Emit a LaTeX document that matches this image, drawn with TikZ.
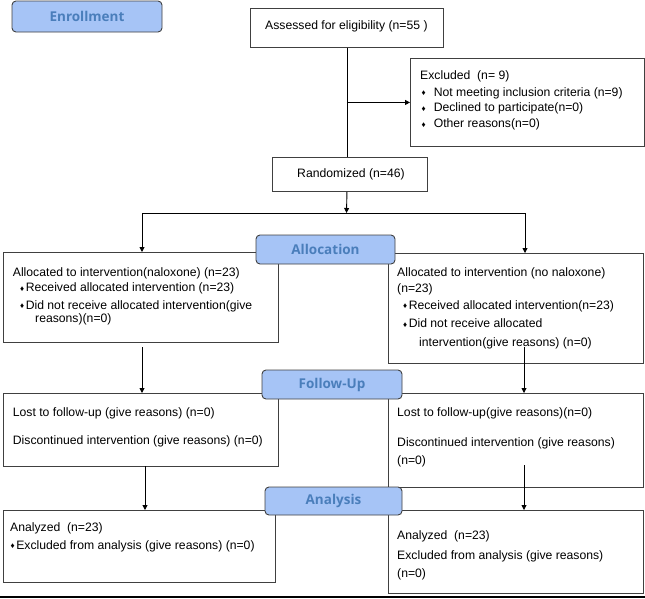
\documentclass[tikz,border=0pt]{standalone}
\usepackage{fontspec}
\setmainfont{Liberation Sans}
\newfontfamily\lblfont{Open Sans}
\usetikzlibrary{arrows.meta,calc}
\definecolor{lblfill}{HTML}{A6C4F6}
\definecolor{lbltext}{HTML}{4A7EBB}
\definecolor{boxline}{HTML}{404040}
\newcommand{\bul}{\raisebox{0.6pt}{\fontsize{8}{8}\selectfont ♦}}
\newcommand{\mkbox}[5]{\node[box, anchor=north west, minimum width={(#4-#2)*1pt}, minimum height={(#5-#3)*1pt}] (#1) at (#2,#3) {};}
\newcommand{\mklbl}[6]{\node[lbl, minimum width={(#4-#2)*1pt}, minimum height={(#5-#3)*1pt}] (#1) at ({(#2+#4)/2},{(#3+#5)/2}) {#6};}
\begin{document}
\begin{tikzpicture}[x=1pt,y=-1pt,
  box/.style={draw=boxline, line width=0.9pt, fill=white, rectangle, inner sep=0pt},
  lbl/.style={draw=boxline, line width=0.9pt, fill=lblfill, rounded corners=4pt, inner sep=0pt,
    text=lbltext, font=\lblfont\bfseries\fontsize{13.5}{15}\selectfont},
  txt/.style={anchor=base west, inner sep=0pt, font=\fontsize{12.2}{14}\selectfont},
  arr/.style={line width=0.9pt, -{Triangle[length=5pt,width=5pt]}},
  ln/.style={line width=0.9pt}]
\useasboundingbox (0,0) rectangle (645,598);

% boxes
\mkbox{assess}{250}{8}{443}{47}
\mkbox{excl}{410}{58}{644}{146}
\mkbox{rand}{272}{157}{427}{191}
\mkbox{allocL}{3}{252}{278}{342}
\mkbox{allocR}{388}{253}{643}{363}
\mkbox{followL}{3}{393}{278}{466}
\mkbox{followR}{388}{393}{643}{487}
\mkbox{anaL}{3}{510}{275}{582}
\mkbox{anaR}{388}{510}{643}{593}

% texts
\node[txt] (tAssess) at (265,29.5) {Assessed for eligibility (n=55 )};
\node[txt] (tExcl0) at (420,79.5) {Excluded\ \ (n= 9)};
\node[txt] (tExcl1) at (421.5,96) {\bul\hspace{8pt}Not meeting inclusion criteria (n=9)};
\node[txt] (tExcl2) at (421.5,111.8) {\bul\hspace{8pt}Declined to participate(n=0)};
\node[txt] (tExcl3) at (421.5,127.7) {\bul\hspace{8pt}Other reasons(n=0)};
\node[txt] (tRand) at (297,177.5) {Randomized (n=46)};

\node[txt] (tAL0) at (12.7,276) {Allocated to intervention(naloxone) (n=23)};
\node[txt] (tAL1) at (20,291.7) {\bul\hspace{1.5pt}Received allocated intervention (n=23)};
\node[txt] (tAL2) at (20,309.3) {\bul\hspace{1.5pt}Did not receive allocated intervention(give};
\node[txt] (tAL3) at (35,322.7) {reasons)(n=0)};

\node[txt] (tAR0) at (397,276) {Allocated to intervention (no naloxone)};
\node[txt] (tAR1) at (397,292.7) {(n=23)};
\node[txt] (tAR2) at (403,309.3) {\bul\hspace{1.5pt}Received allocated intervention(n=23)};
\node[txt] (tAR3) at (403,327.7) {\bul\hspace{1.5pt}Did not receive allocated};
\node[txt] (tAR4) at (419,346) {intervention(give reasons) (n=0)};

\node[txt] (tFL0) at (12.7,416) {Lost to follow-up (give reasons) (n=0)};
\node[txt] (tFL1) at (12.7,444.3) {Discontinued intervention (give reasons) (n=0)};

\node[txt] (tFR0) at (397,416) {Lost to follow-up(give reasons)(n=0)};
\node[txt] (tFR1) at (397,446) {Discontinued intervention (give reasons)};
\node[txt] (tFR2) at (397,464.3) {(n=0)};

\node[txt] (tNL0) at (10,531) {Analyzed\ \ (n=23)};
\node[txt] (tNL1) at (10.5,549.3) {\bul\hspace{1.5pt}Excluded from analysis (give reasons) (n=0)};

\node[txt] (tNR0) at (397,539.3) {Analyzed\ \ (n=23)};
\node[txt] (tNR1) at (397,559.3) {Excluded from analysis (give reasons)};
\node[txt] (tNR2) at (397,577.7) {(n=0)};

% connectors
\draw[ln] (assess.south) -- (assess.south |- rand.north);
\draw[arr] (assess.south |- excl.west) -- (excl.west);
\coordinate (split) at (346.5,213);
\coordinate (sL) at (142,213);
\coordinate (sR) at (525,213);
\draw[arr] (assess.south |- rand.south) -- (split);
\draw[ln] (sL) -- (sR);
\draw[arr] (sL) -- (sL |- allocL.north);
\draw[arr] (sR) -- (sR |- allocR.north);
\coordinate (c1) at (142,347);
\coordinate (c2) at (524,347);
\coordinate (c3) at (145,466);
\coordinate (c4) at (524,465);
\draw[arr] (c1) -- (c1 |- followL.north);
\draw[arr] (c2) -- (c2 |- followR.north);
\draw[arr] (c3) -- (c3 |- anaL.north);
\draw[arr] (c4) -- (c4 |- anaR.north);

% stage labels
\mklbl{enroll}{12}{1}{162}{32}{Enrollment}
\mklbl{allocLbl}{256}{235}{395}{264}{Allocation}
\mklbl{followLbl}{262}{370}{402}{399}{Follow-Up}
\mklbl{anaLbl}{265}{487}{402}{515}{Analysis}

% bottom rule
\draw[line width=2pt] (0,596.5) -- (645,596.5);
\end{tikzpicture}
\end{document}
